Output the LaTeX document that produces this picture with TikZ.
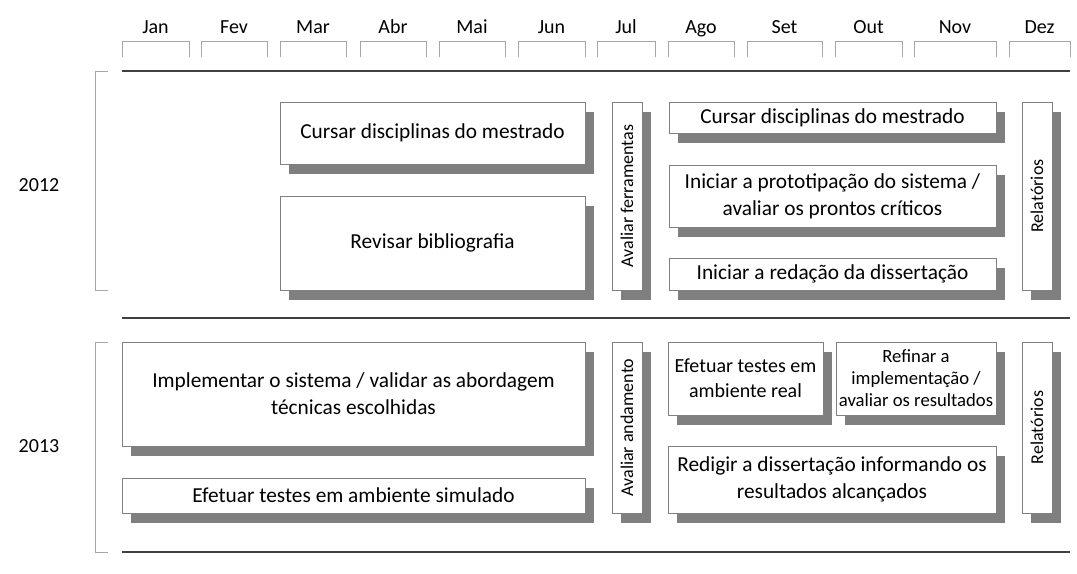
\documentclass[tikz,border=0pt]{standalone}
\usepackage{fontspec}
\setmainfont{Carlito}
\usetikzlibrary{shadows}
\definecolor{linegray}{HTML}{404040}
\definecolor{boxgray}{HTML}{808080}
\definecolor{shadowgray}{HTML}{7F7F7F}
\definecolor{bracketgray}{HTML}{A6A6A6}

\begin{document}
\begin{tikzpicture}[x=0.75pt, y=-0.75pt,
        task/.style={draw=boxgray, fill=white, align=center, inner sep=2pt,
          font=\fontsize{16}{20}\selectfont,
          general shadow={fill=shadowgray, shadow xshift=6.75pt, shadow yshift=-7.5pt}},
        vtask/.style={task, minimum width=22.5pt, font=\fontsize{13.5}{16}\selectfont},
        bracket/.style={draw=bracketgray, line width=0.75pt},
        rule/.style={draw=linegray, line width=1.4pt},
        month/.style={font=\fontsize{15}{18}\selectfont, anchor=base},
        year/.style={font=\fontsize{15}{18}\selectfont}
      ]
      \useasboundingbox (0,0) rectangle (1077,574);
      % months
      \foreach \a/\b/\m in {122/189/Jan, 201/267/Fev, 280/346/Mar, 360/426/Abr,
          439/505/Mai, 518/585/Jun, 597/655/Jul, 668/734/Ago, 747/822/Set,
          835/902/Out, 914/996/Nov, 1009/1070/Dez} {
        \draw[bracket] (\a,57) |- (\b,42) -- (\b,57);
        \node[month] (m-\m) at ({(\a+\b)/2},34) {\m};
      }
      % rules
      \draw[rule] (122,71) -- (1070,71);
      \draw[rule] (122,318) -- (1070,318);
      \draw[rule] (122,552) -- (1070,552);
      % years
      \draw[bracket] (108,72) -| (95,290) -- (108,290);
      \draw[bracket] (108,342) -| (95,552) -- (108,552);
      \node[year] (y2012) at (39,185) {2012};
      \node[year] (y2013) at (39,446) {2013};
      % 2012
      \node[task, minimum width=228.75pt, minimum height=46.5pt] (cursarA) at (432.5,133) {Cursar disciplinas do mestrado};
      \node[task, minimum width=228.75pt, minimum height=70.5pt] (revisar) at (432.5,243) {Revisar bibliografia};
      \node[vtask, minimum height=141pt] (avaliarF) at (627,196) {\rotatebox{90}{Avaliar ferramentas}};
      \node[task, minimum width=245.25pt, minimum height=23.25pt] (cursarB) at (832.5,117.5) {Cursar disciplinas do mestrado};
      \node[task, minimum width=245.25pt, minimum height=46.5pt] (iniciarP) at (832.5,196) {Iniciar a prototipação do sistema /\\avaliar os prontos críticos};
      \node[task, minimum width=245.25pt, minimum height=24pt] (iniciarR) at (832.5,274) {Iniciar a redação da dissertação};
      \node[vtask, minimum height=141pt] (relatA) at (1037,196) {\rotatebox{90}{Relatórios}};
      % 2013
      \node[task, minimum width=347.25pt, minimum height=78pt] (implementar) at (353.5,394) {Implementar o sistema / validar as abordagem\\técnicas escolhidas};
      \node[task, minimum width=347.25pt, minimum height=26.25pt] (efetuarS) at (353.5,495.5) {Efetuar testes em ambiente simulado};
      \node[vtask, minimum height=128.25pt] (avaliarA) at (627,427.5) {\rotatebox{90}{Avaliar andamento}};
      \node[task, minimum width=116.25pt, minimum height=54.75pt, font=\fontsize{15}{19}\selectfont] (efetuarR) at (745.5,378.5) {Efetuar testes em\\ambiente real};
      \node[task, minimum width=120pt, minimum height=54.75pt, font=\fontsize{14}{16.5}\selectfont] (refinar) at (916,378.5) {Refinar a\\implementação /\\avaliar os resultados};
      \node[task, minimum width=246pt, minimum height=50.25pt] (redigir) at (832,479.5) {Redigir a dissertação informando os\\resultados alcançados};
      \node[vtask, minimum height=128.25pt] (relatB) at (1037,427.5) {\rotatebox{90}{Relatórios}};
    \end{tikzpicture}
\end{document}
